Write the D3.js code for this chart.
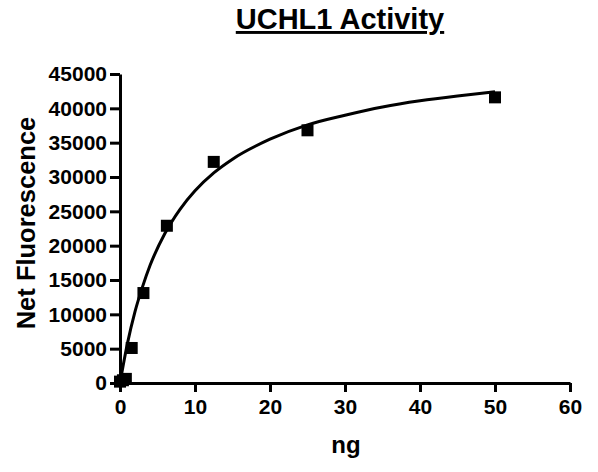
<!doctype html>
<html>
<head>
<script src="https://cdnjs.cloudflare.com/ajax/libs/d3/7.8.5/d3.min.js"></script>
<style>
  body { margin: 0; background: #fff; }
  svg { font-family: "Liberation Sans", Arial, sans-serif; font-weight: bold; }
  .axis path.domain, .axis line { stroke: #000; stroke-width: 3; }
  .axis text { fill: #000; font-size: 21px; font-weight: bold; }
</style>
</head>
<body>
<svg width="598" height="472"></svg>
<script>
// measured points (ng, net fluorescence)
var doseNg = [0, 0.39, 0.78, 1.56, 3.125, 6.25, 12.5, 25, 50];
var fluorescence = [200, 400, 600, 5100, 13100, 22900, 32200, 36800, 41600];

// fitted curve
var fitNg = [0, 1, 2, 3, 4, 6, 8, 10, 12.5, 15, 20, 25, 30, 35, 40, 45, 50];
var fitValue = [0, 5800, 10400, 14000, 17100, 21800, 25300, 28000, 30600, 32600, 35500, 37600, 39000, 40200, 41100, 41800, 42400];

var xTicks = [0, 10, 20, 30, 40, 50, 60];
var yTicks = [0, 5000, 10000, 15000, 20000, 25000, 30000, 35000, 40000, 45000];

var svg = d3.select("svg");
var x = d3.scaleLinear().domain([0, 60]).range([120, 570]);
var y = d3.scaleLinear().domain([0, 45000]).range([383, 74]);

svg.append("g").attr("class", "axis")
  .attr("transform", "translate(0,383)")
  .call(d3.axisBottom(x).tickValues(xTicks).tickSize(9).tickSizeOuter(0).tickPadding(7));

svg.append("g").attr("class", "axis")
  .attr("transform", "translate(120,0)")
  .call(d3.axisLeft(y).tickValues(yTicks).tickSize(10).tickSizeOuter(0).tickPadding(3).tickFormat(d3.format("d")));

var line = d3.line()
  .x(function(d, i) { return x(fitNg[i]); })
  .y(function(d, i) { return y(fitValue[i]); })
  .curve(d3.curveMonotoneX);

svg.append("path")
  .attr("d", line(fitNg))
  .attr("fill", "none")
  .attr("stroke", "#000")
  .attr("stroke-width", 3);

svg.selectAll("rect.pt")
  .data(doseNg)
  .enter().append("rect")
  .attr("class", "pt")
  .attr("x", function(d) { return x(d) - 6; })
  .attr("y", function(d, i) { return y(fluorescence[i]) - 6; })
  .attr("width", 12)
  .attr("height", 12)
  .attr("fill", "#000");

svg.append("text")
  .attr("x", 340).attr("y", 29)
  .attr("text-anchor", "middle")
  .attr("font-size", 29)
  .attr("text-decoration", "underline")
  .text("UCHL1 Activity");

svg.append("text")
  .attr("transform", "translate(35,223) rotate(-90)")
  .attr("text-anchor", "middle")
  .attr("font-size", 25.5)
  .text("Net Fluorescence");

svg.append("text")
  .attr("x", 346).attr("y", 453)
  .attr("text-anchor", "middle")
  .attr("font-size", 24)
  .text("ng");
</script>
</body>
</html>
